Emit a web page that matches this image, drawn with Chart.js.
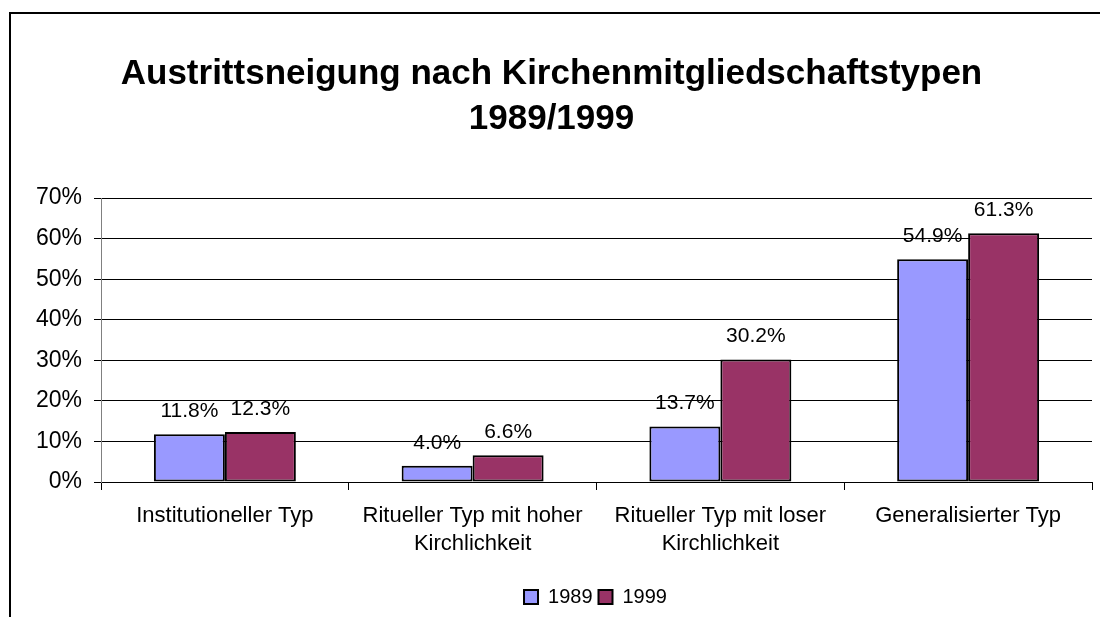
<!DOCTYPE html>
<html>
<head>
<meta charset="utf-8">
<script src="https://cdn.jsdelivr.net/npm/chart.js@4/dist/chart.umd.min.js"></script>
<style>
    body { margin: 0; background: #fff; }
    #frame {
        position: absolute; left: 9px; top: 12px; width: 1100px; height: 620px;
        border-left: 2px solid #000; border-top: 2px solid #000;
    }
    #wrap { position: absolute; left: 0; top: 0; width: 1100px; height: 617px; }
</style>
</head>
<body>
<div id="frame"></div>
<div id="wrap"><canvas id="chart" width="1100" height="617"></canvas></div>
<script>
// chart values
const categories = [
    'Institutioneller Typ',
    ['Ritueller Typ mit hoher', 'Kirchlichkeit'],
    ['Ritueller Typ mit loser', 'Kirchlichkeit'],
    'Generalisierter Typ'
];
const values1989 = [11.8, 4.0, 13.7, 54.9];
const values1999 = [12.3, 6.6, 30.2, 61.3];
const yTicks = [0, 10, 20, 30, 40, 50, 60, 70];

const fontFamily = '"Liberation Sans", Arial, sans-serif';

// draws the % labels above each bar
const valueLabels = {
    id: 'valueLabels',
    afterDatasetsDraw(chart) {
        const ctx = chart.ctx;
        ctx.save();
        ctx.font = '21px ' + fontFamily;
        ctx.fillStyle = '#000';
        ctx.textAlign = 'center';
        ctx.textBaseline = 'middle';
        chart.data.datasets.forEach((ds, i) => {
            chart.getDatasetMeta(i).data.forEach((bar, j) => {
                ctx.fillText(ds.data[j].toFixed(1) + '%', bar.x, bar.y - 23);
            });
        });
        ctx.restore();
    }
};

// legend in the original sits a bit right of centre
const legendShift = {
    id: 'legendShift',
    afterLayout(chart) {
        chart.legend.left += 44;
        chart.legend.right += 44;
    }
};

let chart = new Chart(document.getElementById('chart').getContext('2d'), {
    type: 'bar',
    data: {
        labels: categories,
        datasets: [{
            label: '1989',
            data: values1989,
            backgroundColor: '#9999FF',
            borderColor: '#000',
            borderWidth: 2,
            borderSkipped: false
        }, {
            label: '1999',
            data: values1999,
            backgroundColor: '#993366',
            borderColor: '#000',
            borderWidth: 2,
            borderSkipped: false
        }]
    },
    options: {
        responsive: false,
        animation: false,
        datasets: { bar: { barPercentage: 1, categoryPercentage: 0.573 } },
        layout: { padding: { left: 11, right: 8, top: 12, bottom: 0 } },
        plugins: {
            title: {
                display: true,
                text: ['Austrittsneigung nach Kirchenmitgliedschaftstypen', '1989/1999'],
                color: '#000',
                font: { family: fontFamily, size: 35, weight: 'bold', lineHeight: 1.286 },
                padding: { top: 40, bottom: 56 }
            },
            legend: {
                position: 'bottom',
                labels: {
                    color: '#000',
                    font: { family: fontFamily, size: 20 },
                    boxWidth: 14,
                    boxHeight: 14,
                    padding: 6,
                    useBorderRadius: false
                }
            },
            tooltip: { enabled: false }
        },
        scales: {
            x: {
                grid: { display: true, drawOnChartArea: false, offset: true, tickLength: 8, color: '#000' },
                border: { color: '#000', width: 1 },
                ticks: { color: '#000', font: { family: fontFamily, size: 22, lineHeight: 1.27 }, padding: 12, maxRotation: 0, autoSkip: false },
                afterFit(scale) { scale.height = 99; }
            },
            y: {
                min: 0,
                max: 70,
                afterBuildTicks(scale) { scale.ticks = yTicks.map(v => ({ value: v })); },
                grid: { color: '#000', tickLength: 7 },
                border: { color: '#808080', width: 1 },
                ticks: {
                    color: '#000',
                    font: { family: fontFamily, size: 23 },
                    padding: 12,
                    callback: v => v + '%'
                },
                afterFit(scale) { scale.width = 90; }
            }
        }
    },
    plugins: [valueLabels, legendShift]
});
</script>
</body>
</html>
